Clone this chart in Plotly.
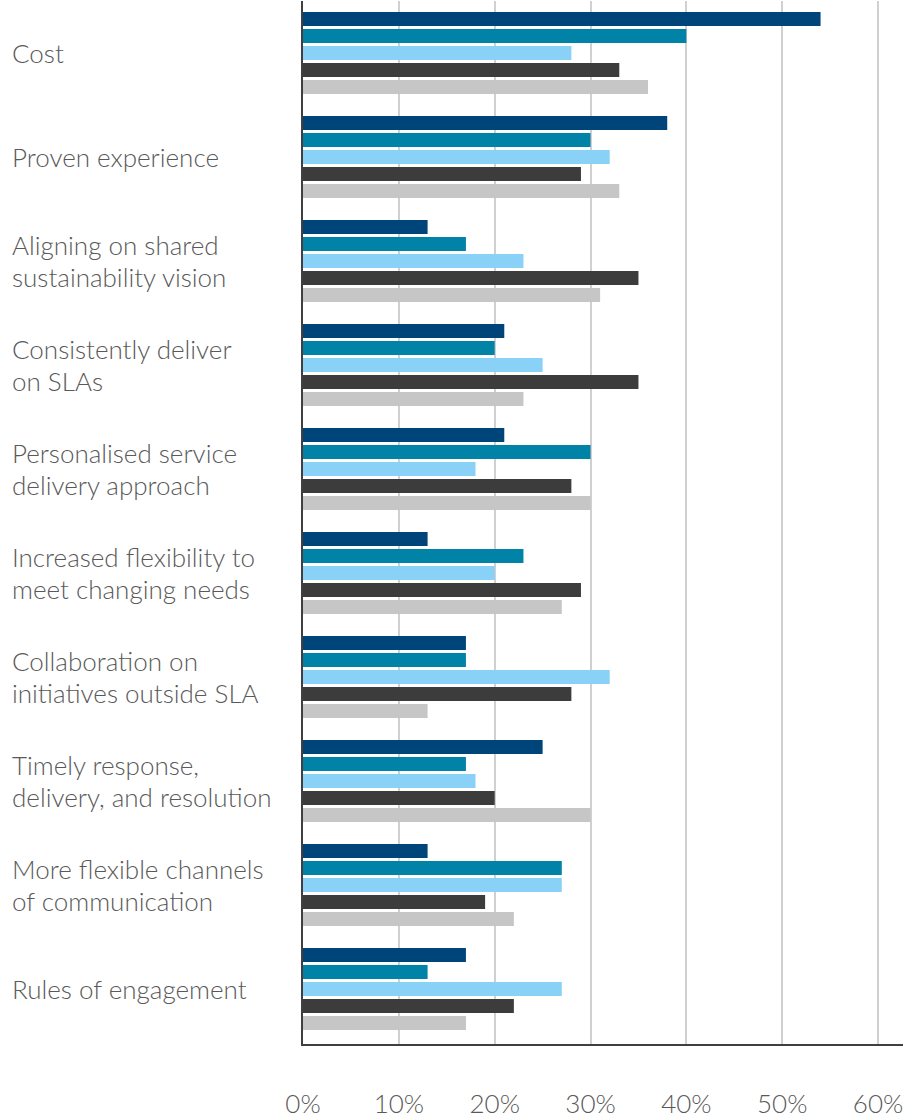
import plotly.graph_objects as go

categories = [
    "Cost",
    "Proven experience",
    "Aligning on shared<br>sustainability vision",
    "Consistently deliver<br>on SLAs",
    "Personalised service<br>delivery approach",
    "Increased flexibility to<br>meet changing needs",
    "Collaboration on<br>initiatives outside SLA",
    "Timely response,<br>delivery, and resolution",
    "More flexible channels<br>of communication",
    "Rules of engagement",
]

series_a = [54, 38, 13, 21, 21, 13, 17, 25, 13, 17]
series_b = [40, 30, 17, 20, 30, 23, 17, 17, 27, 13]
series_c = [28, 32, 23, 25, 18, 20, 32, 18, 27, 27]
series_d = [33, 29, 35, 35, 28, 29, 28, 20, 19, 22]
series_e = [36, 33, 31, 23, 30, 27, 13, 30, 22, 17]

series_list = [series_a, series_b, series_c, series_d, series_e]
colors = ["#00457A", "#0083A6", "#89D1F7", "#3C3C3C", "#C6C6C6"]

tick_vals = [0, 10, 20, 30, 40, 50, 60]
tick_text = ["0%", "10%", "20%", "30%", "40%", "50%", "60%"]

idx = list(range(len(categories)))

fig = go.Figure()
for vals, col in zip(series_list, colors):
    fig.add_trace(go.Bar(
        x=vals, y=idx, orientation="h",
        marker=dict(color=col, line=dict(width=0)),
        showlegend=False, hoverinfo="skip",
    ))

font_family = "Lato, 'Open Sans', sans-serif"
text_color = "#595959"

W, H = 906, 1120
L, R, T, B = 303, 3, 1, 76
plot_w = W - L - R
line_h = 32

for i, c in enumerate(categories):
    lines = c.split("<br>")
    n = len(lines)
    for k, ln in enumerate(lines):
        fig.add_annotation(
            x=-(L - 10) / plot_w, xref="paper", xanchor="left",
            y=i, yref="y", yanchor="middle",
            yshift=((n - 1) / 2 - k) * line_h,
            text=ln, align="left", showarrow=False,
            font=dict(family=font_family, size=26, color=text_color, weight=300),
        )

fig.update_layout(
    width=W, height=H,
    margin=dict(l=L, r=R, t=T, b=B),
    paper_bgcolor="white", plot_bgcolor="white",
    barmode="group",
    bargap=0.183, bargroupgap=0.176,
    xaxis=dict(
        range=[0, 62.6],
        tickvals=tick_vals, ticktext=tick_text,
        showgrid=True, gridcolor="#D0D0D0", gridwidth=1.5,
        zeroline=False,
        showline=True, linecolor="#404040", linewidth=1.5,
        ticks="", ticklabelstandoff=36, automargin=False,
        tickfont=dict(family=font_family, size=26, color=text_color, weight=300),
        fixedrange=True,
    ),
    yaxis=dict(
        range=[9.529, -0.5],
        tickvals=idx, showticklabels=False,
        showgrid=False, zeroline=False,
        showline=True, linecolor="#404040", linewidth=1.5,
        ticks="", fixedrange=True, automargin=False,
    ),
)

fig.write_html("out.html")
